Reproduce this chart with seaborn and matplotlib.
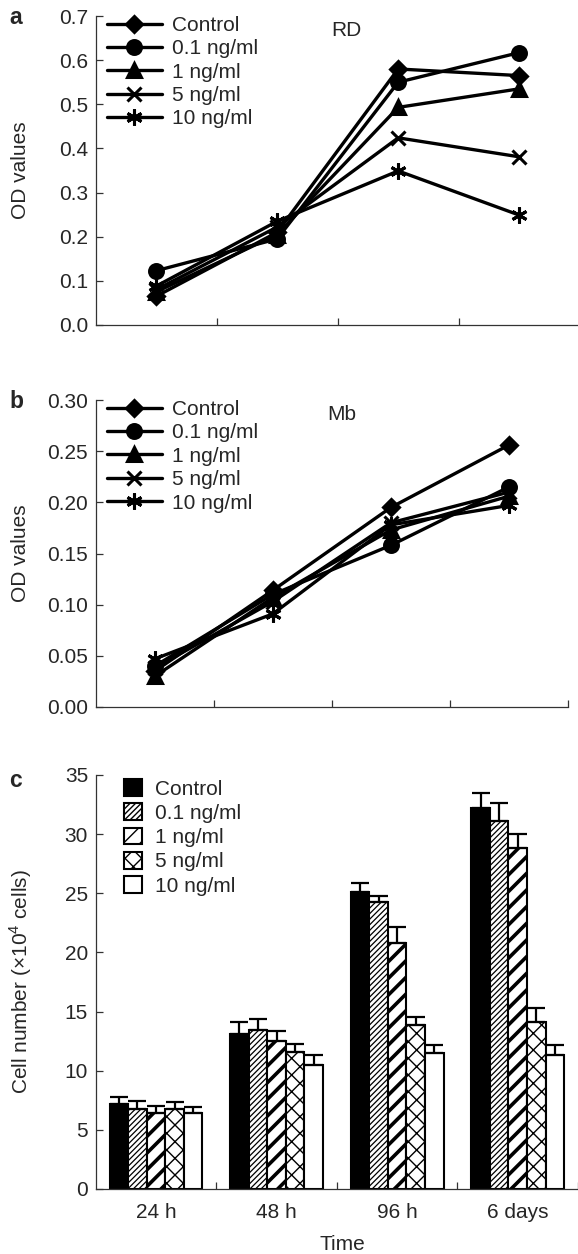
import matplotlib
matplotlib.use("Agg")
import numpy as np
import pandas as pd
import seaborn as sns
import matplotlib.pyplot as plt
from matplotlib.patches import Patch

sns.set_style("ticks")
plt.rcParams["font.family"] = ["Liberation Sans", "DejaVu Sans"]
plt.rcParams["mathtext.fontset"] = "custom"
plt.rcParams["mathtext.rm"] = "Liberation Sans"

FS = 15

times = ["24 h", "48 h", "96 h", "6 days"]
conc = ["Control", "0.1 ng/ml", "1 ng/ml", "5 ng/ml", "10 ng/ml"]

# panel a: RD, OD values
rd_control = [0.065, 0.210, 0.580, 0.565]
rd_01 = [0.123, 0.195, 0.550, 0.617]
rd_1 = [0.075, 0.205, 0.493, 0.535]
rd_5 = [0.080, 0.222, 0.424, 0.381]
rd_10 = [0.088, 0.235, 0.349, 0.249]

# panel b: Mb, OD values
mb_control = [0.035, 0.114, 0.195, 0.256]
mb_01 = [0.040, 0.110, 0.158, 0.215]
mb_1 = [0.030, 0.107, 0.173, 0.206]
mb_5 = [0.038, 0.103, 0.180, 0.210]
mb_10 = [0.047, 0.091, 0.178, 0.197]

# panel c: cell number (x10^4) and upper error
cells_control = [7.2, 13.1, 25.1, 32.2]
cells_01 = [6.75, 13.45, 24.25, 31.1]
cells_1 = [6.45, 12.5, 20.8, 28.8]
cells_5 = [6.8, 11.55, 13.9, 14.1]
cells_10 = [6.45, 10.5, 11.5, 11.3]
err_control = [0.6, 1.05, 0.75, 1.25]
err_01 = [0.7, 0.95, 0.55, 1.5]
err_1 = [0.55, 0.85, 1.35, 1.2]
err_5 = [0.55, 0.7, 0.6, 1.2]
err_10 = [0.5, 0.8, 0.65, 0.9]

markers = {"Control": "D", "0.1 ng/ml": "o", "1 ng/ml": "^",
           "5 ng/ml": "x", "10 ng/ml": (6, 2, 0)}
msizes = {"Control": 8.5, "0.1 ng/ml": 10, "1 ng/ml": 10.5,
          "5 ng/ml": 10.5, "10 ng/ml": 11.5}


def long_df(series, value):
    rows = []
    for c, vals in zip(conc, series):
        for t, v in zip(times, vals):
            rows.append({"time": t, value: v, "conc": c})
    return pd.DataFrame(rows)


W, H = 578, 1254
fig = plt.figure(figsize=(W / 100, H / 100), dpi=100)


def px_axes(left, right, top, bottom):
    return fig.add_axes([left / W, 1 - bottom / H, (right - left) / W, (bottom - top) / H])


def style_axes(ax):
    sns.despine(ax=ax)
    for s in ("left", "bottom"):
        ax.spines[s].set_color("#333333")
        ax.spines[s].set_linewidth(0.9)
    ax.tick_params(axis="both", which="both", direction="in", length=5,
                   width=0.9, color="#333333", labelsize=FS, pad=5.5)
    ax.set_xlabel("")
    ax.set_ylabel("")


def line_panel(ax, series, ylim, yticks, fmt, tag):
    df = long_df(series, "od")
    for c in conc:
        sub = df[df["conc"] == c]
        sns.lineplot(data=sub, x="time", y="od", ax=ax, color="black",
                     marker=markers[c], markersize=msizes[c],
                     markeredgecolor="black", markeredgewidth=2.2,
                     linewidth=2.4, legend=False)
    style_axes(ax)
    ax.set_ylim(*ylim)
    ax.set_yticks(yticks)
    ax.set_yticklabels([fmt.format(v) for v in yticks])
    ax.set_xticks([0.5, 1.5, 2.5, 3.5])
    ax.set_xticklabels([])
    lines = ax.get_lines()[:5]
    ax.legend(lines, conc, loc="upper left", bbox_to_anchor=(0.023, 1.0),
              frameon=False, fontsize=FS, handlelength=2.65, handletextpad=0.5,
              labelspacing=0.21, borderpad=0, borderaxespad=0, numpoints=1)
    ax.text(0.52, 0.985, tag, transform=ax.transAxes, fontsize=FS,
            ha="center", va="top")


# panel a
ax_a = px_axes(95.7, 578, 16, 325)
line_panel(ax_a, [rd_control, rd_01, rd_1, rd_5, rd_10], (0, 0.7),
           np.arange(0, 0.71, 0.1), "{:.1f}", "RD")
ax_a.set_xlim(-0.5, 3.486)

# panel b
ax_b = px_axes(95.7, 568, 400, 707)
line_panel(ax_b, [mb_control, mb_01, mb_1, mb_5, mb_10], (0, 0.30),
           np.arange(0, 0.301, 0.05), "{:.2f}", "Mb")
ax_b.set_xlim(-0.5, 3.5)

# panel c
ax_c = px_axes(95.7, 578, 775, 1189)
cells = [cells_control, cells_01, cells_1, cells_5, cells_10]
errs = [err_control, err_01, err_1, err_5, err_10]
df_c = long_df(cells, "cells")
sns.barplot(data=df_c, x="time", y="cells", hue="conc", order=times,
            hue_order=conc, width=0.77, errorbar=None, legend=False,
            palette=["black"] + ["white"] * 4, saturation=1,
            edgecolor="black", linewidth=1.5, ax=ax_c)
hatches = [None, "//////", "//", "xx", None]
hatch_lw = [1, 0.9, 2.6, 1.0, 1]
for cont, h, hlw, e in zip(ax_c.containers, hatches, hatch_lw, errs):
    xs, ys = [], []
    for bar in cont:
        if h:
            bar.set_hatch(h)
            if hasattr(bar, "set_hatch_linewidth"):
                bar.set_hatch_linewidth(hlw)
        xs.append(bar.get_x() + bar.get_width() / 2)
        ys.append(bar.get_height())
    ax_c.errorbar(xs, ys, yerr=[np.zeros(len(e)), e], fmt="none",
                  ecolor="black", elinewidth=1.6, capsize=6.5, capthick=1.6,
                  zorder=1)
style_axes(ax_c)
ax_c.set_ylim(0, 35)
ax_c.set_yticks(range(0, 36, 5))
ax_c.set_xlim(-0.5, 3.44)
ax_c.set_xticks(range(4))
ax_c.set_xticklabels(times)
ax_c.tick_params(axis="x", which="major", length=0, pad=10)
ax_c.set_xticks([0.5, 1.5, 2.5, 3.5], minor=True)

handles = []
for i, c in enumerate(conc):
    p = Patch(facecolor="black" if i == 0 else "white", edgecolor="black",
              linewidth=1.5, hatch=hatches[i])
    if hatches[i] and hasattr(p, "set_hatch_linewidth"):
        p.set_hatch_linewidth(hatch_lw[i])
    handles.append(p)
ax_c.legend(handles, conc, loc="upper left", bbox_to_anchor=(0.059, 0.99),
            frameon=False, fontsize=FS, handlelength=0.87, handleheight=0.87,
            handletextpad=0.6, labelspacing=0.22, borderpad=0,
            borderaxespad=0)

# labels
fig.text(9 / W, 1 - 24 / H, "a", fontsize=16.5, fontweight="bold", va="baseline")
fig.text(9 / W, 1 - 408 / H, "b", fontsize=16.5, fontweight="bold", va="baseline")
fig.text(9 / W, 1 - 787 / H, "c", fontsize=16.5, fontweight="bold", va="baseline")
fig.text(21 / W, 1 - 170 / H, "OD values", rotation=90, fontsize=FS,
         ha="center", va="center")
fig.text(21 / W, 1 - 553 / H, "OD values", rotation=90, fontsize=FS,
         ha="center", va="center")
fig.text(21 / W, 1 - 982 / H, r"Cell number ($\times$10$^4$ cells)",
         rotation=90, fontsize=FS, ha="center", va="center")
fig.text(342 / W, 1 - 1245 / H, "Time", fontsize=FS, ha="center", va="center")

fig.savefig("out.png", dpi=100)
